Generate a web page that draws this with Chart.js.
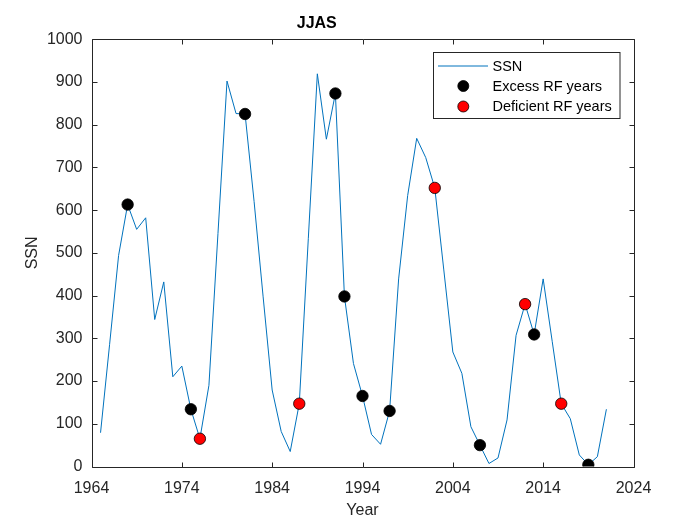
<!DOCTYPE html>
<html>
<head>
<meta charset="utf-8">
<script src="https://cdn.jsdelivr.net/npm/chart.js@4.4.1/dist/chart.umd.min.js"></script>
<style>
html,body{margin:0;padding:0;background:#fff;}
#wrap{width:700px;height:525px;}
</style>
</head>
<body>
<div id="wrap"><canvas id="c" width="700" height="525"></canvas></div>
<script>
const years = [1965,1966,1967,1968,1969,1970,1971,1972,1973,1974,1975,1976,1977,1978,1979,1980,1981,1982,1983,1984,1985,1986,1987,1988,1989,1990,1991,1992,1993,1994,1995,1996,1997,1998,1999,2000,2001,2002,2003,2004,2005,2006,2007,2008,2009,2010,2011,2012,2013,2014,2015,2016,2017,2018,2019,2020,2021];
const ssn = [79,285,494,613,555,582,344,432,210,235,134,65,190,545,902,826,825,620,397,179,82,35,147,533,919,766,873,398,241,165,75,52,130,439,634,768,723,652,460,268,218,93,50,7,20,109,307,380,309,439,293,147,112,27,4,23,134];
const excessYears = [1968,1975,1981,1991,1992,1994,1997,2007,2013,2019];
const deficientYears = [1976,1987,2002,2012,2016];
const xTicks = [1964,1974,1984,1994,2004,2014,2024];
const yTicks = [0,100,200,300,400,500,600,700,800,900,1000];
const labels = {title:'JJAS', x:'Year', y:'SSN', s1:'SSN', s2:'Excess RF years', s3:'Deficient RF years'};

const valueAt = y => ssn[years.indexOf(y)];
const ssnPts = years.map((y,i)=>({x:y,y:ssn[i]}));
const excessPts = excessYears.map(y=>({x:y,y:valueAt(y)}));
const deficientPts = deficientYears.map(y=>({x:y,y:valueAt(y)}));

const FONT = 'Arial, "Liberation Sans", Helvetica, sans-serif';
const AX = '#262626';
const LINE = '#0072BD';

const frameTicks = {
  id:'frameTicks',
  afterDatasetsDraw(chart){
    const {ctx, chartArea:a, scales:{x, y}} = chart;
    ctx.save();
    ctx.strokeStyle = AX;
    ctx.lineWidth = 1;
    const L = Math.round(a.left)+0.5, R = Math.round(a.right)+0.5, T = Math.round(a.top)+0.5, B = Math.round(a.bottom)+0.5;
    ctx.beginPath();
    ctx.rect(L, T, R-L, B-T);
    ctx.stroke();
    const tl = 5;
    ctx.beginPath();
    xTicks.forEach(v=>{
      const px = Math.round(x.getPixelForValue(v))+0.5;
      ctx.moveTo(px,B); ctx.lineTo(px,B-tl);
      ctx.moveTo(px,T); ctx.lineTo(px,T+tl);
    });
    yTicks.forEach(v=>{
      const py = Math.round(y.getPixelForValue(v))+0.5;
      ctx.moveTo(L,py); ctx.lineTo(L+tl,py);
      ctx.moveTo(R,py); ctx.lineTo(R-tl,py);
    });
    ctx.stroke();

    // legend box
    const lx = 433.5, ly = 52.5, lw = 186.5, lh = 66;
    ctx.fillStyle = '#fff';
    ctx.fillRect(lx, ly, lw, lh);
    ctx.strokeStyle = AX;
    ctx.strokeRect(lx, ly, lw, lh);
    const rows = [66, 86, 106.5];
    ctx.strokeStyle = LINE; ctx.lineWidth = 1;
    ctx.beginPath(); ctx.moveTo(438, rows[0]); ctx.lineTo(488, rows[0]); ctx.stroke();
    [[rows[1],'#000000'],[rows[2],'#ff0000']].forEach(([ry,c])=>{
      ctx.beginPath(); ctx.arc(463.3, ry, 5.5, 0, Math.PI*2);
      ctx.fillStyle = c; ctx.fill();
      ctx.strokeStyle = '#000'; ctx.lineWidth = 0.8; ctx.stroke();
    });
    ctx.fillStyle = '#000';
    ctx.font = '14.5px ' + FONT;
    ctx.textBaseline = 'middle';
    ctx.textAlign = 'left';
    ctx.fillText(labels.s1, 492.5, rows[0]+0.5);
    ctx.fillText(labels.s2, 492.5, rows[1]+0.5);
    ctx.fillText(labels.s3, 492.5, rows[2]+0.5);
    ctx.restore();
  }
};

new Chart(document.getElementById('c'), {
  type:'scatter',
  data:{
    datasets:[
      {label:labels.s1, data:ssnPts, showLine:true, borderColor:LINE, borderWidth:1, pointRadius:0, fill:false, order:2},
      {label:labels.s2, data:excessPts, pointRadius:5.7, pointBackgroundColor:'#000000', pointBorderColor:'#000', pointBorderWidth:0.8, showLine:false, order:1},
      {label:labels.s3, data:deficientPts, pointRadius:5.7, pointBackgroundColor:'#ff0000', pointBorderColor:'#000', pointBorderWidth:0.8, showLine:false, order:0}
    ]
  },
  options:{
    responsive:false,
    animation:false,
    devicePixelRatio:1,
    layout:{padding:{top:0,right:66.5,bottom:0,left:0}},
    plugins:{
      legend:{display:false},
      tooltip:{enabled:false},
      title:{display:true, text:labels.title, color:'#000', font:{family:FONT, size:16, weight:'bold', lineHeight:1.2}, padding:{top:14,bottom:6}}
    },
    scales:{
      x:{
        type:'linear', min:1964, max:2024,
        afterBuildTicks(s){ s.ticks = xTicks.map(v=>({value:v})); },
        afterFit(s){ s.height = 58.5; },
        grid:{display:false, drawTicks:false},
        border:{display:false},
        ticks:{color:AX, padding:12, maxRotation:0, font:{family:FONT, size:16}, callback:v=>String(v)},
        title:{display:true, text:labels.x, color:AX, font:{family:FONT, size:16}, padding:{top:0,bottom:4.5}}
      },
      y:{
        type:'linear', min:0, max:1000,
        afterBuildTicks(s){ s.ticks = yTicks.map(v=>({value:v})); },
        afterFit(s){ s.width = 91.5; },
        grid:{display:false, drawTicks:false},
        border:{display:false},
        ticks:{color:AX, padding:9, font:{family:FONT, size:16}, callback:v=>String(v)},
        title:{display:true, text:labels.y, color:AX, font:{family:FONT, size:16}, padding:{top:22.5,bottom:0}}
      }
    }
  },
  plugins:[frameTicks]
});
</script>
</body>
</html>
